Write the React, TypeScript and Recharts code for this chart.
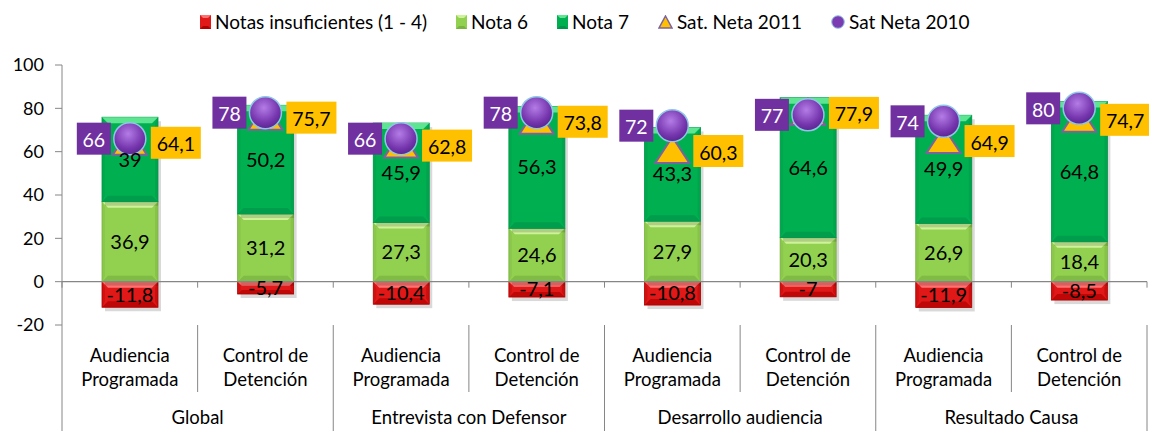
import { Bar, ComposedChart, LabelList, Line, ReferenceLine, XAxis, YAxis } from "recharts";

// category labels (two lines each) and group labels
const categories = [
  "Audiencia Programada", "Control de Detención",
  "Audiencia Programada", "Control de Detención",
  "Audiencia Programada", "Control de Detención",
  "Audiencia Programada", "Control de Detención",
];
const groups = ["Global", "Entrevista con Defensor", "Desarrollo audiencia", "Resultado Causa"];

const insuficientes = [-11.8, -5.7, -10.4, -7.1, -10.8, -7, -11.9, -8.5];
const nota6 = [36.9, 31.2, 27.3, 24.6, 27.9, 20.3, 26.9, 18.4];
const nota7 = [39, 50.2, 45.9, 56.3, 43.3, 64.6, 49.9, 64.8];
const satNeta2011 = [64.1, 75.7, 62.8, 73.8, 60.3, 77.9, 64.9, 74.7];
const satNeta2010 = [66, 78, 66, 78, 72, 77, 74, 80];

const yTicks = [-20, 0, 20, 40, 60, 80, 100];

const data = categories.map((name, i) => ({
  name,
  insuficientes: insuficientes[i],
  nota6: nota6[i],
  nota7: nota7[i],
  sat2011: satNeta2011[i],
  sat2010: satNeta2010[i],
}));

const W = 1149;
const H = 431;
const TOP = 65;
const X_AXIS_H = 106;
const PLOT_H = H - TOP - X_AXIS_H;
const FONT = "Lato, 'Open Sans', sans-serif";
const GRID = "#868686";

const fmt = (v: any) => String(v).replace(".", ",");

const palette: Record<string, { base: string; light: string; dark: string }> = {
  red: { base: "#E01818", light: "#FF7070", dark: "#B00000" },
  nota6: { base: "#92D050", light: "#CDF298", dark: "#79B440" },
  nota7: { base: "#00B050", light: "#5EE592", dark: "#00964A" },
};

function BevelBar(props: any) {
  const { x, y, width, height, colors } = props;
  const top = height < 0 ? y + height : y;
  const h = Math.abs(height);
  if (!h) return null;
  const b = Math.min(6, h / 3);
  const c = palette[colors];
  return (
    <g>
      <rect x={x + 3} y={top + 4} width={width} height={h} fill="#000" opacity={0.15} />
      <rect x={x} y={top} width={width} height={h} fill={c.base} stroke={c.dark} strokeWidth={0.8} />
      <polygon points={`${x},${top} ${x + width},${top} ${x + width - b},${top + b} ${x + b},${top + b}`} fill={c.light} />
      <polygon points={`${x},${top + h} ${x + width},${top + h} ${x + width - b},${top + h - b} ${x + b},${top + h - b}`} fill={c.dark} opacity={0.7} />
      <polygon points={`${x},${top} ${x + 3},${top + b} ${x + 3},${top + h - b} ${x},${top + h}`} fill={c.dark} opacity={0.3} />
      <polygon points={`${x + width},${top} ${x + width - 3},${top + b} ${x + width - 3},${top + h - b} ${x + width},${top + h}`} fill={c.dark} opacity={0.45} />
    </g>
  );
}

function TriangleDot(props: any) {
  const { cx, cy, value, index } = props;
  if (cx == null || cy == null) return <g key={`t${index}`} />;
  return (
    <g key={`t${index}`}>
      <polygon
        points={`${cx},${cy - 14} ${cx + 17},${cy + 12} ${cx - 17},${cy + 12}`}
        fill="#FFC000"
        stroke="#7D62A0"
        strokeWidth={2}
      />
      <rect x={cx + 21} y={cy - 16} width={50} height={32} fill="#FFC000" />
      <text x={cx + 46} y={cy + 1} textAnchor="middle" dominantBaseline="central" fontSize={19.5} fill="#000" fontFamily={FONT}>
        {fmt(value)}
      </text>
    </g>
  );
}

function CircleDot(props: any) {
  const { cx, cy, value, index } = props;
  if (cx == null || cy == null) return <g key={`c${index}`} />;
  return (
    <g key={`c${index}`}>
      <circle cx={cx} cy={cy} r={16} fill="url(#satGrad)" stroke="#8EC6E6" strokeWidth={1.5} />
      <rect x={cx - 53} y={cy - 16} width={34} height={32} fill="#7030A0" />
      <text x={cx - 36} y={cy + 1} textAnchor="middle" dominantBaseline="central" fontSize={19.5} fill="#fff" fontFamily={FONT}>
        {fmt(value)}
      </text>
    </g>
  );
}

function CategoryTick(props: any) {
  const { x, y, index, payload } = props;
  const band = payload && payload.offset ? payload.offset * 2 : (W - 64) / categories.length;
  const [l1, ...rest] = categories[index].split(" ");
  const lines = categories[index].startsWith("Control") ? ["Control de", "Detención"] : [l1, rest.join(" ")];
  const zeroY = y - (PLOT_H * 20) / 120;
  const last = index === categories.length - 1;
  return (
    <g fontFamily={FONT} fontSize={18.5} fill="#000">
      <line x1={x - band / 2} x2={x - band / 2} y1={zeroY} y2={zeroY + 6} stroke={GRID} />
      {last && <line x1={x + band / 2} x2={x + band / 2} y1={zeroY} y2={zeroY + 6} stroke={GRID} />}
      <text x={x} y={y + 30} textAnchor="middle" dominantBaseline="central">{lines[0]}</text>
      <text x={x} y={y + 54} textAnchor="middle" dominantBaseline="central">{lines[1]}</text>
      {index % 2 === 0 ? (
        <>
          <line x1={x + band / 2} x2={x + band / 2} y1={y} y2={y + 67} stroke={GRID} />
          <line x1={x - band / 2} x2={x - band / 2} y1={y} y2={y + X_AXIS_H} stroke={GRID} />
          <text x={x + band / 2} y={y + 92} textAnchor="middle" dominantBaseline="central">
            {groups[index / 2]}
          </text>
        </>
      ) : (
        last && <line x1={x + band / 2} x2={x + band / 2} y1={y} y2={y + X_AXIS_H} stroke={GRID} />
      )}
    </g>
  );
}

const legendItems = [
  { label: "Notas insuficientes (1 - 4)", kind: "red" },
  { label: "Nota 6", kind: "nota6" },
  { label: "Nota 7", kind: "nota7" },
  { label: "Sat. Neta 2011", kind: "tri" },
  { label: "Sat Neta 2010", kind: "circle" },
];

function LegendIcon({ kind }: { kind: string }) {
  if (kind === "tri") {
    return (
      <svg width={15} height={14}>
        <polygon points="7.5,1 14,13 1,13" fill="#FFC000" stroke="#7D62A0" strokeWidth={1.5} />
      </svg>
    );
  }
  if (kind === "circle") {
    return (
      <svg width={14} height={14}>
        <circle cx={7} cy={7} r={6.3} fill="#7a3cb0" stroke="#8EC6E6" strokeWidth={1} />
      </svg>
    );
  }
  const c = palette[kind];
  return (
    <svg width={11} height={14}>
      <rect x={0} y={0} width={11} height={14} fill={c.base} />
      <polygon points="0,0 11,0 8,3 3,3" fill={c.light} />
      <polygon points="0,14 11,14 8,11 3,11" fill={c.dark} />
    </svg>
  );
}

export default function App() {
  return (
    <div style={{ position: "absolute", left: 0, top: 0, width: W, height: H, background: "#fff", fontFamily: FONT }}>
      <div
        style={{
          position: "absolute",
          top: 10,
          left: 200,
          display: "flex",
          alignItems: "center",
          fontSize: 19,
          color: "#000",
          whiteSpace: "nowrap",
        }}
      >
        {legendItems.map((it) => (
          <div key={it.label} style={{ display: "flex", alignItems: "center", marginRight: 29 }}>
            <LegendIcon kind={it.kind} />
            <span style={{ marginLeft: 4 }}>{it.label}</span>
          </div>
        ))}
      </div>
      <ComposedChart
        width={W}
        height={H}
        data={data}
        stackOffset="sign"
        barSize={56}
        margin={{ top: TOP, right: 2, left: 0, bottom: 0 }}
      >
        <defs>
          <radialGradient id="satGrad" cx="0.45" cy="0.35" r="0.65">
            <stop offset="0%" stopColor="#B47CE6" />
            <stop offset="70%" stopColor="#7636AE" />
            <stop offset="100%" stopColor="#5A2690" />
          </radialGradient>
        </defs>
        <XAxis
          dataKey="name"
          height={X_AXIS_H}
          axisLine={false}
          tickLine={false}
          tickSize={0}
          tickMargin={0}
          interval={0}
          tick={<CategoryTick />}
        />
        <YAxis
          width={62}
          domain={[-20, 100]}
          ticks={yTicks}
          interval={0}
          stroke={GRID}
          tickSize={7}
          tickMargin={11}
          tick={{ fill: "#000", fontSize: 18, fontFamily: FONT }}
        />
        <ReferenceLine y={0} stroke={GRID} strokeWidth={1.2} />
        <Bar dataKey="insuficientes" stackId="a" isAnimationActive={false} shape={<BevelBar colors="red" />}>
          <LabelList dataKey="insuficientes" position="center" formatter={fmt} fill="#000" fontSize={20} fontFamily={FONT} />
        </Bar>
        <Bar dataKey="nota6" stackId="a" isAnimationActive={false} shape={<BevelBar colors="nota6" />}>
          <LabelList dataKey="nota6" position="center" formatter={fmt} fill="#000" fontSize={20} fontFamily={FONT} />
        </Bar>
        <Bar dataKey="nota7" stackId="a" isAnimationActive={false} shape={<BevelBar colors="nota7" />}>
          <LabelList dataKey="nota7" position="center" formatter={fmt} fill="#000" fontSize={20} fontFamily={FONT} />
        </Bar>
        <Line
          dataKey="sat2011"
          stroke="none"
          isAnimationActive={false}
          activeDot={false}
          dot={(p: any) => <TriangleDot {...p} />}
        />
        <Line
          dataKey="sat2010"
          stroke="none"
          isAnimationActive={false}
          activeDot={false}
          dot={(p: any) => <CircleDot {...p} />}
        />
      </ComposedChart>
    </div>
  );
}
